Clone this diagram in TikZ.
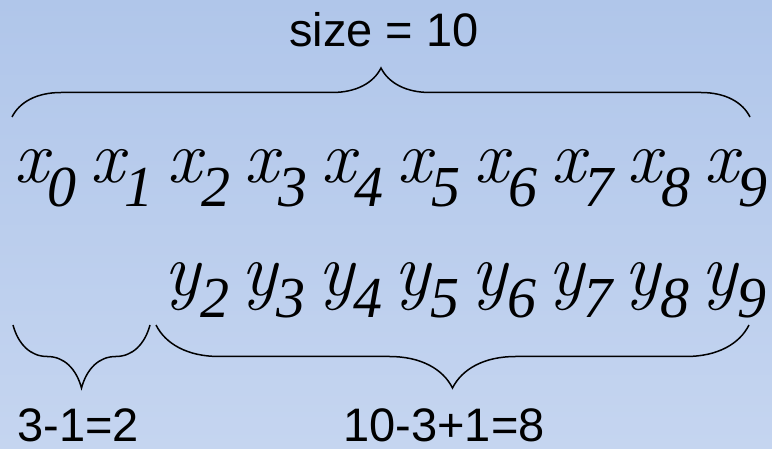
\documentclass[tikz,border=0pt]{standalone}
\usepackage{fontspec}
\setsansfont{Liberation Sans}
\newfontfamily\digitfont{Liberation Serif}
\usepackage{tikz}
\usetikzlibrary{
  decorations.pathreplacing,
  positioning
}
\definecolor{slidetop}{RGB}{176,198,234}
\definecolor{slidebottom}{RGB}{197,213,240}
\definecolor{inkblack}{RGB}{0,0,0}
\newcommand{\subsize}{\digitfont\fontsize{58}{58}\selectfont\itshape}
\tikzset{
  term/.style={anchor=base west,inner sep=0pt,text=inkblack,
    font=\rmfamily\fontsize{75}{75}\selectfont\itshape},
  countlab/.style={anchor=base,inner sep=0pt,text=inkblack,
    font=\sffamily\fontsize{47}{47}\selectfont},
  span/.style={decorate,decoration={brace,amplitude=#1},
    line width=1.5pt,draw=inkblack}
}

\begin{document}
\begin{tikzpicture}[x=1pt,y=1pt]
  \useasboundingbox (0,0) rectangle (772,-449);
  \shade[top color=slidetop,bottom color=slidebottom] (0,0) rectangle (772,-449);
  % original sequence
  \foreach \i in {0,...,9}
    \node[term] (x\i) at ({14+76.7*\i},-183) {x\raisebox{-24pt}{\subsize\i}};
  % shifted sequence
  \foreach \i in {2,...,9}
    \node[term] (y\i) at ({11+76.7*\i},-296) {y\raisebox{-22pt}{\subsize\i}};
  % brace ends
  \coordinate (allL) at (12,-117);
  \coordinate (allR) at (750,-117);
  \coordinate (skipL) at (13,-325);
  \coordinate (skipR) at (150,-325);
  \coordinate (keepL) at (156,-325);
  \coordinate (keepR) at (749,-325);
  \draw[span=49] (allL) -- (allR);
  \draw[span=63] (skipR) -- (skipL);
  \draw[span=63] (keepR) -- (keepL);
  % counts
  \node[countlab] (size) at (384,-47) {size = 10};
  \node[countlab] (skip) at (78,-442) {3-1=2};
  \node[countlab] (keep) at (444,-442) {10-3+1=8};
\end{tikzpicture}
\end{document}
